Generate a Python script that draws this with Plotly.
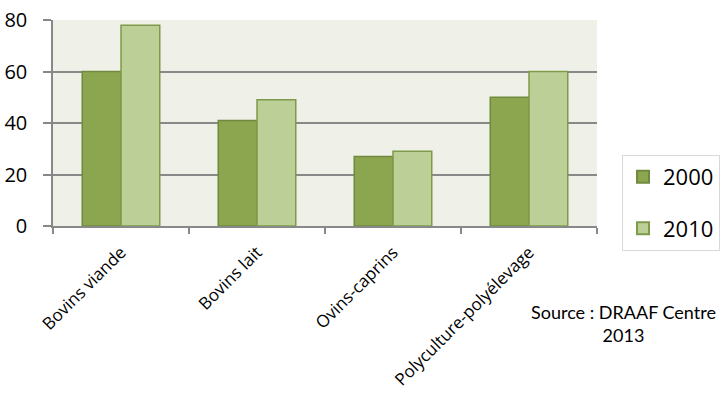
import plotly.graph_objects as go

categories = ["Bovins viande", "Bovins lait", "Ovins-caprins", "Polyculture-polyélevage"]
values_2000 = [60, 41, 27, 50]
values_2010 = [78, 49, 29, 60]
series_names = ["2000", "2010"]
y_ticks = [0, 20, 40, 60, 80]

FONT = "Open Sans, sans-serif"

fig = go.Figure()
fig.add_trace(go.Bar(x=categories, y=values_2000, name=series_names[0], legendgroup="a",
                     marker=dict(color="#8BA64E", line=dict(color="#71893F", width=1.5))))
fig.add_trace(go.Bar(x=categories, y=values_2010, name=series_names[1], legendgroup="b",
                     marker=dict(color="#BBCF96", line=dict(color="#7F9A48", width=1.5))))

fig.update_layout(
    width=723, height=399,
    margin=dict(l=53, r=126, t=20, b=173, autoexpand=False),
    paper_bgcolor="white",
    plot_bgcolor="#EFF1E8",
    barmode="group",
    bargap=0.43,
    bargroupgap=0,
    font=dict(family=FONT, color="black"),
    legend=dict(x=1.046, y=0.345, xanchor="left", yanchor="top",
                bordercolor="#D9D9D9", borderwidth=1, bgcolor="white",
                font=dict(size=22, family=FONT),
                tracegroupgap=20, itemwidth=30, itemsizing="constant"),
    showlegend=True,
)
fig.update_xaxes(
    automargin=False,
    tickson="boundaries", ticks="outside", ticklen=6, tickcolor="#888888", tickwidth=1.5,
    showline=True, linecolor="#888888", linewidth=1.5,
    tickangle=-45, tickfont=dict(size=17, family=FONT), ticklabelstandoff=8,
    showgrid=False,
)
fig.update_yaxes(
    automargin=False,
    range=[0, 80], tickvals=y_ticks, ticks="outside", ticklen=8, tickcolor="#888888", tickwidth=1.5,
    showline=True, linecolor="#888888", linewidth=1.5,
    showgrid=True, gridcolor="#888888", gridwidth=1.5,
    tickfont=dict(size=20, family=FONT), zeroline=False, ticklabelstandoff=12,
)
fig.add_annotation(text="Source : DRAAF Centre<br>2013", x=1.0496, y=-0.471, xref="paper", yref="paper",
                   xanchor="center", yanchor="middle",
                   showarrow=False, align="center", font=dict(size=18, family="Lato, sans-serif"))

fig.write_html("out.html", config={"displayModeBar": False},
               post_script="document.body.style.margin='0px';")
